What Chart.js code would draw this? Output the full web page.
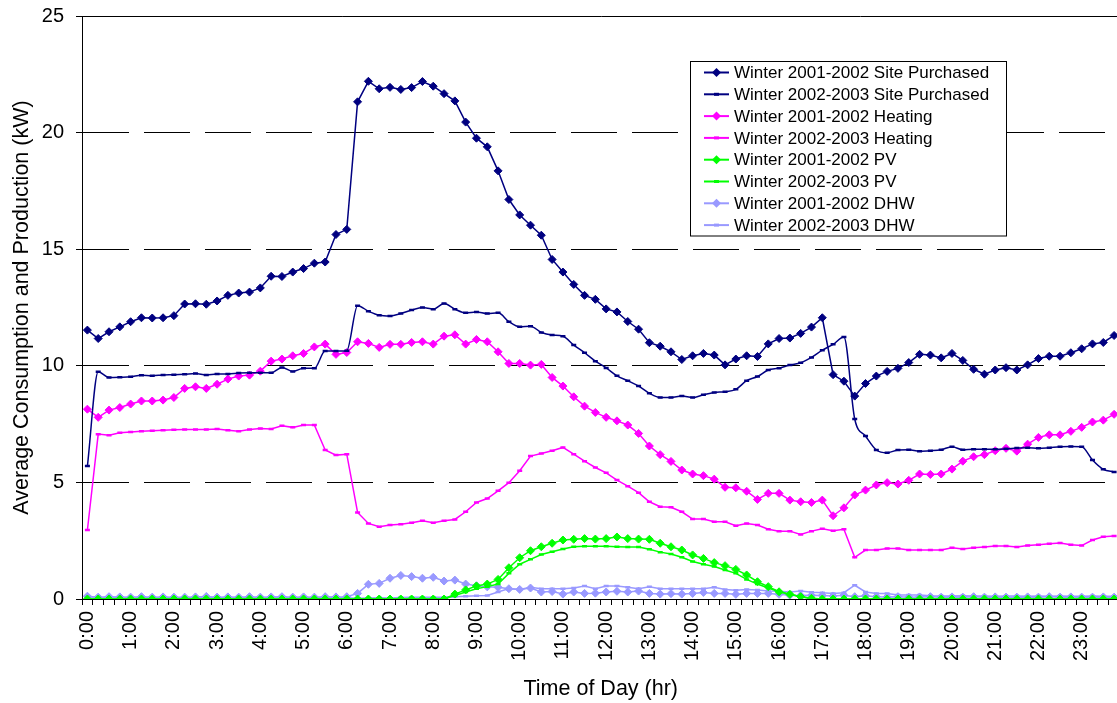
<!DOCTYPE html>
<html>
<head>
<meta charset="utf-8">
<script src="https://cdn.jsdelivr.net/npm/chart.js@4/dist/chart.umd.min.js"></script>
<style>
    body { margin: 0; background: #fff; }
    #wrap { width: 1117px; height: 703px; overflow: hidden; position: relative; }
    #myChart { display: block; }
</style>
</head>
<body>
<div id="wrap"><canvas id="myChart" width="1126" height="703"></canvas></div>
<script>
// tick labels, one per hour
const hourLabels = ['0:00', '1:00', '2:00', '3:00', '4:00', '5:00', '6:00', '7:00', '8:00', '9:00', '10:00', '11:00',
    '12:00', '13:00', '14:00', '15:00', '16:00', '17:00', '18:00', '19:00', '20:00', '21:00', '22:00', '23:00']
// 15 minute categories
const times = []
hourLabels.forEach((h) => {
    const hr = h.split(':')[0]
    times.push(h, hr + ':15', hr + ':30', hr + ':45')
})

const site0102 = [11.53, 11.17, 11.46, 11.67, 11.89, 12.06, 12.05, 12.06, 12.15, 12.65, 12.66, 12.64,
    12.78, 13.02, 13.12, 13.16, 13.34, 13.84, 13.83, 14.02, 14.17, 14.4, 14.45, 15.63,
    15.85, 21.32, 22.2, 21.88, 21.94, 21.85, 21.93, 22.19, 21.99, 21.67, 21.36, 20.45,
    19.76, 19.39, 18.36, 17.13, 16.47, 16.03, 15.6, 14.56, 14.02, 13.49, 13.02, 12.85,
    12.44, 12.31, 11.9, 11.57, 10.99, 10.84, 10.6, 10.27, 10.43, 10.53, 10.46, 10.04,
    10.29, 10.43, 10.4, 10.94, 11.17, 11.19, 11.39, 11.66, 12.06, 9.62, 9.34, 8.7,
    9.24, 9.56, 9.76, 9.89, 10.14, 10.49, 10.46, 10.34, 10.53, 10.23, 9.85, 9.64,
    9.82, 9.92, 9.82, 10.04, 10.31, 10.41, 10.41, 10.56, 10.73, 10.94, 11.0, 11.3]
const site0203 = [5.7, 9.74, 9.5, 9.51, 9.53, 9.6, 9.57, 9.61, 9.62, 9.64, 9.67, 9.61,
    9.65, 9.65, 9.69, 9.7, 9.7, 9.7, 9.93, 9.76, 9.89, 9.89, 10.63, 10.63,
    10.65, 12.58, 12.34, 12.17, 12.14, 12.24, 12.39, 12.5, 12.43, 12.67, 12.43, 12.27,
    12.31, 12.24, 12.27, 11.89, 11.67, 11.7, 11.43, 11.32, 11.27, 10.89, 10.56, 10.2,
    9.91, 9.57, 9.36, 9.13, 8.82, 8.64, 8.64, 8.71, 8.64, 8.76, 8.86, 8.89,
    8.99, 9.36, 9.54, 9.82, 9.9, 10.03, 10.13, 10.36, 10.67, 10.92, 11.23, 7.72,
    6.99, 6.39, 6.27, 6.39, 6.4, 6.34, 6.36, 6.4, 6.53, 6.4, 6.42, 6.42,
    6.42, 6.44, 6.47, 6.49, 6.46, 6.49, 6.53, 6.54, 6.53, 5.96, 5.56, 5.45]
const heat0102 = [8.14, 7.79, 8.1, 8.21, 8.36, 8.49, 8.49, 8.53, 8.64, 9.03, 9.1, 9.03,
    9.21, 9.43, 9.56, 9.6, 9.77, 10.2, 10.29, 10.43, 10.53, 10.81, 10.93, 10.49,
    10.57, 11.03, 10.96, 10.79, 10.92, 10.92, 11.0, 11.03, 10.93, 11.27, 11.33, 10.93,
    11.13, 11.03, 10.6, 10.1, 10.1, 10.03, 10.06, 9.5, 9.13, 8.67, 8.27, 8.0,
    7.79, 7.64, 7.46, 7.1, 6.56, 6.19, 5.9, 5.53, 5.36, 5.29, 5.14, 4.79,
    4.77, 4.62, 4.27, 4.53, 4.53, 4.24, 4.17, 4.14, 4.24, 3.57, 3.91, 4.46,
    4.67, 4.89, 4.99, 4.93, 5.09, 5.36, 5.34, 5.36, 5.57, 5.91, 6.1, 6.19,
    6.36, 6.46, 6.34, 6.64, 6.93, 7.04, 7.04, 7.19, 7.36, 7.59, 7.67, 7.92]
const heat0203 = [2.96, 7.07, 7.02, 7.13, 7.16, 7.19, 7.21, 7.24, 7.26, 7.27, 7.27, 7.27,
    7.29, 7.24, 7.19, 7.27, 7.31, 7.29, 7.43, 7.36, 7.46, 7.46, 6.39, 6.17,
    6.21, 3.71, 3.24, 3.1, 3.17, 3.21, 3.27, 3.36, 3.27, 3.36, 3.41, 3.74,
    4.14, 4.31, 4.64, 4.99, 5.5, 6.13, 6.24, 6.36, 6.5, 6.21, 5.91, 5.64,
    5.41, 5.1, 4.84, 4.56, 4.17, 3.96, 3.93, 3.74, 3.43, 3.43, 3.31, 3.31,
    3.14, 3.24, 3.17, 2.99, 2.91, 2.91, 2.77, 2.91, 3.01, 2.93, 2.99, 1.79,
    2.1, 2.1, 2.17, 2.17, 2.1, 2.1, 2.1, 2.1, 2.2, 2.14, 2.2, 2.23,
    2.27, 2.27, 2.23, 2.29, 2.33, 2.37, 2.4, 2.33, 2.29, 2.53, 2.67, 2.7]
const pv0102 = [0, 0, 0, 0, 0, 0, 0, 0, 0, 0, 0, 0,
    0, 0, 0, 0, 0, 0, 0, 0, 0, 0, 0, 0,
    0, 0, 0, 0, 0, 0, 0, 0, 0, 0, 0.21, 0.39,
    0.56, 0.64, 0.84, 1.34, 1.77, 2.07, 2.24, 2.39, 2.53, 2.56, 2.59, 2.57,
    2.59, 2.66, 2.59, 2.57, 2.56, 2.39, 2.24, 2.1, 1.89, 1.74, 1.56, 1.43,
    1.27, 1.03, 0.74, 0.53, 0.31, 0.2, 0.1, 0.03, 0, 0, 0, 0,
    0, 0, 0, 0, 0, 0, 0, 0, 0, 0, 0, 0,
    0, 0, 0, 0, 0, 0, 0, 0, 0, 0, 0, 0]
const pv0203 = [0, 0, 0, 0, 0, 0, 0, 0, 0, 0, 0, 0,
    0, 0, 0, 0, 0, 0, 0, 0, 0, 0, 0, 0,
    0, 0, 0, 0, 0, 0, 0, 0, 0, 0, 0.15, 0.3,
    0.44, 0.53, 0.64, 1.1, 1.49, 1.7, 1.91, 2.03, 2.14, 2.24, 2.26, 2.26,
    2.26, 2.24, 2.23, 2.23, 2.13, 2.01, 1.93, 1.79, 1.61, 1.49, 1.39, 1.24,
    1.1, 0.84, 0.64, 0.47, 0.31, 0.2, 0.1, 0.02, 0, 0, 0, 0,
    0, 0, 0, 0, 0, 0, 0, 0, 0, 0, 0, 0,
    0, 0, 0, 0, 0, 0, 0, 0, 0, 0, 0, 0]
const dhw0102 = [0.12, 0.08, 0.1, 0.09, 0.08, 0.1, 0.08, 0.09, 0.08, 0.08, 0.09, 0.11,
    0.08, 0.09, 0.08, 0.1, 0.08, 0.09, 0.1, 0.08, 0.09, 0.08, 0.1, 0.09,
    0.1, 0.24, 0.63, 0.67, 0.89, 1.01, 0.96, 0.89, 0.93, 0.77, 0.81, 0.64,
    0.57, 0.52, 0.5, 0.44, 0.41, 0.47, 0.3, 0.32, 0.21, 0.3, 0.24, 0.25,
    0.3, 0.33, 0.3, 0.34, 0.24, 0.21, 0.23, 0.21, 0.24, 0.28, 0.24, 0.24,
    0.2, 0.24, 0.24, 0.24, 0.2, 0.16, 0.15, 0.16, 0.15, 0.13, 0.16, 0.1,
    0.14, 0.1, 0.09, 0.1, 0.08, 0.09, 0.1, 0.08, 0.09, 0.08, 0.1, 0.08,
    0.09, 0.08, 0.08, 0.09, 0.08, 0.1, 0.08, 0.09, 0.08, 0.08, 0.09, 0.08]
const dhw0203 = [0.05, 0.04, 0.05, 0.05, 0.04, 0.05, 0.05, 0.04, 0.05, 0.05, 0.04, 0.05,
    0.05, 0.04, 0.05, 0.05, 0.04, 0.05, 0.05, 0.04, 0.05, 0.05, 0.04, 0.05,
    0.05, 0.03, 0.04, 0.05, 0.04, 0.06, 0.07, 0.08, 0.07, 0.08, 0.1, 0.12,
    0.14, 0.15, 0.3, 0.45, 0.41, 0.5, 0.44, 0.44, 0.44, 0.47, 0.56, 0.44,
    0.56, 0.56, 0.5, 0.44, 0.53, 0.44, 0.44, 0.44, 0.44, 0.44, 0.5, 0.41,
    0.37, 0.41, 0.39, 0.34, 0.33, 0.3, 0.34, 0.29, 0.27, 0.24, 0.27, 0.59,
    0.3, 0.24, 0.24, 0.17, 0.17, 0.17, 0.14, 0.13, 0.13, 0.14, 0.13, 0.13,
    0.12, 0.13, 0.13, 0.12, 0.13, 0.12, 0.13, 0.12, 0.12, 0.13, 0.12, 0.12]

const navy = '#000080'
const pink = '#FF00FF'
const green = '#00FF00'
const lilac = '#9999FF'

Chart.defaults.font.family = '"Liberation Sans", Arial, sans-serif'
Chart.defaults.color = '#000'

// diamond series and small dash series
const diamondSet = (label, values, color) => ({
    label: label, data: values, borderColor: color, backgroundColor: color,
    borderWidth: 1.5, pointStyle: 'rectRot', pointRadius: 4, pointBorderWidth: 1
})
const dashSet = (label, values, color, smooth) => ({
    label: label, data: values, borderColor: color, backgroundColor: color,
    borderWidth: 1.5, pointStyle: 'line', pointRadius: 2.5, pointBorderWidth: 2.5,
    cubicInterpolationMode: smooth ? 'monotone' : 'default'
})

//legend box inside the plot
const legendBox = {
    id: 'legendBox',
    afterDraw: (chart) => {
        const ctx = chart.ctx
        ctx.save()
        ctx.fillStyle = '#fff'
        ctx.fillRect(690.5, 61.5, 316, 174.5)
        ctx.strokeStyle = '#000'
        ctx.lineWidth = 1
        ctx.strokeRect(690.5, 61.5, 316, 174.5)
        chart.data.datasets.forEach((ds, k) => {
            const y = 72.5 + k * 21.8
            ctx.strokeStyle = ds.borderColor
            ctx.fillStyle = ds.borderColor
            ctx.lineWidth = 2
            ctx.beginPath()
            ctx.moveTo(704, y)
            ctx.lineTo(729, y)
            ctx.stroke()
            if (ds.pointStyle === 'rectRot') {
                ctx.beginPath()
                ctx.moveTo(716.5, y - 4.5)
                ctx.lineTo(721, y)
                ctx.lineTo(716.5, y + 4.5)
                ctx.lineTo(712, y)
                ctx.closePath()
                ctx.fill()
            } else {
                ctx.fillRect(714, y - 1.5, 5, 3)
            }
            ctx.fillStyle = '#000'
            ctx.font = '17px "Liberation Sans", Arial, sans-serif'
            ctx.textBaseline = 'middle'
            ctx.fillText(ds.label, 734, y + 1)
        })
        ctx.restore()
    }
}

function renderChart() {
    const grafica = document.querySelector('#myChart')
    const data = {
        labels: times,
        datasets: [
            diamondSet('Winter 2001-2002 Site Purchased', site0102, navy),
            dashSet('Winter 2002-2003 Site Purchased', site0203, navy, true),
            diamondSet('Winter 2001-2002 Heating', heat0102, pink),
            dashSet('Winter 2002-2003 Heating', heat0203, pink, false),
            diamondSet('Winter 2001-2002 PV', pv0102, green),
            dashSet('Winter 2002-2003 PV', pv0203, green, false),
            diamondSet('Winter 2001-2002 DHW', dhw0102, lilac),
            dashSet('Winter 2002-2003 DHW', dhw0203, lilac, false)
        ]
    }
    const config = {
        type: 'line',
        data: data,
        options: {
            responsive: false,
            animation: false,
            layout: { padding: { top: 16, right: 0, bottom: 0, left: 0 } },
            plugins: {
                legend: { display: false },
                tooltip: { enabled: false }
            },
            scales: {
                x: {
                    offset: true,
                    grid: { drawOnChartArea: false, offset: true, color: '#000', tickLength: 6, tickBorderDash: [] },
                    border: { color: '#000', width: 1 },
                    ticks: {
                        autoSkip: false,
                        maxRotation: 90,
                        minRotation: 90,
                        padding: 6,
                        font: { size: 20 },
                        callback: (value, index) => index % 4 === 0 ? times[index] : ''
                    },
                    title: {
                        display: true,
                        text: 'Time of Day (hr)',
                        font: { size: 21.5 },
                        padding: { top: 0, bottom: 1 }
                    },
                    afterFit: (scale) => {
                        scale.height = 104
                        scale.paddingLeft = 0
                        scale.paddingRight = 0
                    }
                },
                y: {
                    min: 0,
                    max: 25,
                    ticks: { stepSize: 5, padding: 12, font: { size: 20 } },
                    grid: { color: '#000', tickLength: 6, tickBorderDash: [] },
                    border: {
                        color: '#000',
                        width: 1,
                        dash: (ctx) => (ctx.tick && ctx.tick.value === 25) ? [] : [46, 15]
                    },
                    title: {
                        display: true,
                        text: 'Average Consumption and Production (kW)',
                        font: { size: 21.5 },
                        padding: { top: 9, bottom: 0 }
                    },
                    afterFit: (scale) => {
                        scale.width = 82
                        scale.paddingTop = 0
                        scale.paddingBottom = 0
                    }
                }
            }
        },
        plugins: [legendBox]
    }
    new Chart(grafica, config)
}

document.addEventListener('DOMContentLoaded', (event) => {
    renderChart()
})
</script>
</body>
</html>
